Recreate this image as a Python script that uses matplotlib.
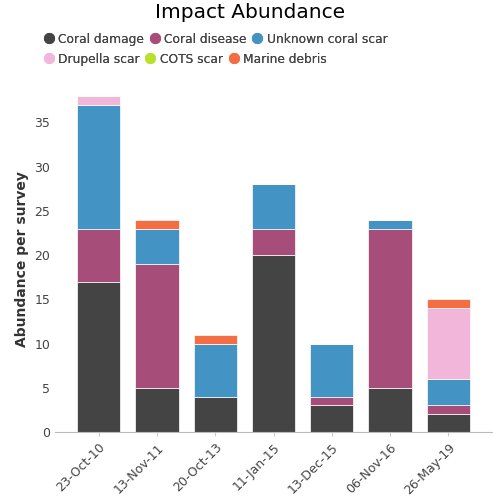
import numpy as np
import matplotlib.pyplot as plt
from matplotlib.lines import Line2D

dates = ["23-Oct-10", "13-Nov-11", "20-Oct-13", "11-Jan-15", "13-Dec-15", "06-Nov-16", "26-May-19"]
coral_damage = [17, 5, 4, 20, 3, 5, 2]
coral_disease = [6, 14, 0, 3, 1, 18, 1]
unknown_scar = [14, 4, 6, 5, 6, 1, 3]
drupella_scar = [1, 0, 0, 0, 0, 0, 8]
cots_scar = [0, 0, 0, 0, 0, 0, 0]
marine_debris = [0, 1, 1, 0, 0, 0, 1]

series = [("Coral damage", coral_damage, "#444444"),
          ("Coral disease", coral_disease, "#a64d79"),
          ("Unknown coral scar", unknown_scar, "#4394c4"),
          ("Drupella scar", drupella_scar, "#f1b6da"),
          ("COTS scar", cots_scar, "#b8e12c"),
          ("Marine debris", marine_debris, "#f46d43")]

fig = plt.figure(figsize=(5, 5), dpi=100)
ax = fig.add_axes([0.11, 0.136, 0.874, 0.69])
x = np.arange(len(dates))
bottom = np.zeros(len(dates))
for name, vals, col in series:
    vals = np.array(vals, dtype=float)
    ax.bar(x, vals, 0.74, bottom=bottom, color=col, edgecolor="white", linewidth=0.5)
    bottom += vals

ax.set_xlim(-0.75, 6.75)
ax.set_ylim(0, 39)
ax.set_yticks([0, 5, 10, 15, 20, 25, 30, 35])
ax.set_xticks(x)
ax.set_xticklabels(dates, rotation=45, ha="right", rotation_mode="anchor")
ax.tick_params(axis="y", length=0, colors="#444444", labelsize=9)
ax.tick_params(axis="x", length=3, color="#cccccc", colors="#444444", labelsize=9)
for s in ["top", "right", "left"]:
    ax.spines[s].set_visible(False)
ax.spines["bottom"].set_color("#bbbbbb")
ax.set_ylabel("Abundance per survey", fontsize=10, fontweight="bold", color="#333333")

fig.text(0.5, 0.974, "Impact Abundance", ha="center", va="center", fontsize=14.5)
handles = [Line2D([], [], marker="o", linestyle="", markersize=7, color=c, label=n)
           for n, v, c in series]
for row, ytop in [(0, 0.952), (1, 0.912)]:
    leg = fig.legend(handles=handles[row * 3:row * 3 + 3], loc="upper left",
                     bbox_to_anchor=(0.068, ytop), ncol=3, frameon=False, fontsize=8.8,
                     handletextpad=0.25, columnspacing=0.4, borderpad=0.2,
                     handlelength=1.0, labelcolor="#444444")
    fig.add_artist(leg)

fig.savefig("out.png", dpi=100)
